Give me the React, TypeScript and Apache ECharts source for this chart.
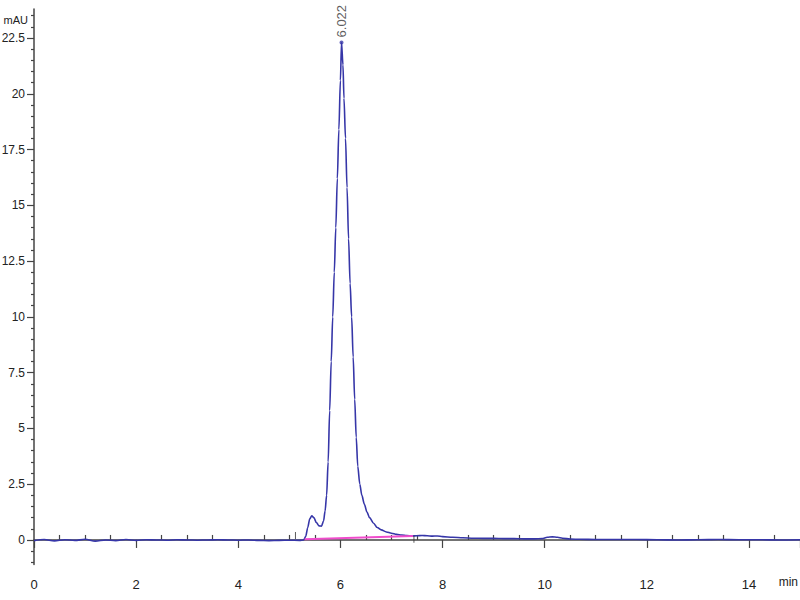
import React, { useEffect, useRef } from "react";
import * as echarts from "echarts";

const times = [
  0, 0.2, 0.4, 0.6, 0.8, 1.0, 1.2, 1.4, 1.6, 1.8, 2.0, 2.2, 2.4, 2.6, 2.8, 3.0,
  3.2, 3.4, 3.6, 3.8, 4.0, 4.2, 4.4, 4.6, 4.8, 5.0, 5.2, 5.28, 5.32, 5.36, 5.4,
  5.44, 5.48, 5.53, 5.58, 5.63, 5.67, 5.7, 5.73, 5.76, 5.79, 5.82, 5.85, 5.88,
  5.91, 5.94, 5.97, 6.0, 6.022, 6.05, 6.07, 6.1, 6.13, 6.16, 6.19, 6.22, 6.25,
  6.28, 6.31, 6.34, 6.38, 6.42, 6.47, 6.52, 6.57, 6.65, 6.72, 6.8, 6.9, 7.0,
  7.1, 7.2, 7.3, 7.4, 7.5, 7.6, 7.7, 7.8, 7.9, 8.0, 8.2, 8.4, 8.6, 8.8, 9.0,
  9.2, 9.4, 9.6, 9.8, 9.95, 10.05, 10.15, 10.25, 10.35, 10.5, 10.7, 11.0,
  11.4, 11.8, 12.2, 12.6, 13.0, 13.4, 13.8, 14.2, 14.6, 15.0,
];
const absorbance = [
  -0.03, 0.02, -0.04, 0.01, -0.02, 0.03, -0.05, 0.0, -0.03, 0.02, -0.02, 0.01,
  0.0, -0.01, 0.01, 0.0, -0.01, 0.0, 0.01, 0.0, -0.01, 0.0, -0.02, -0.03, -0.02,
  -0.01, -0.02, 0.0, 0.15, 0.55, 0.95, 1.08, 1.0, 0.78, 0.63, 0.62, 0.85, 1.3,
  2.0, 3.5, 5.8, 8.0, 10.0, 12.0, 14.0, 16.2, 18.4, 20.6, 22.3, 21.3, 19.8,
  18.0, 15.8, 13.5, 11.5, 10.0, 8.2, 6.3, 4.6, 3.3, 2.5, 2.0, 1.6, 1.25, 1.0,
  0.75, 0.56, 0.45, 0.36, 0.3, 0.25, 0.22, 0.2, 0.18, 0.19, 0.2, 0.19, 0.17,
  0.18, 0.15, 0.12, 0.1, 0.08, 0.07, 0.07, 0.06, 0.06, 0.05, 0.05, 0.06, 0.12,
  0.14, 0.12, 0.08, 0.04, 0.03, 0.02, 0.02, 0.02, 0.01, 0.0, 0.01, 0.02, 0.01,
  0.01, 0.0, 0.01,
];

const peakLabel = "6.022";
const baselineTimes = [5.3, 7.42];
const baselineValues = [0.03, 0.18];
const markerTimes = [5.12, 7.44];
const markerValues = [0.2, 0.03];

const xTickLabels = [0, 2, 4, 6, 8, 10, 12, 14];
const yTickLabels = [0, 2.5, 5, 7.5, 10, 12.5, 15, 17.5, 20, 22.5];
const xAxisTitle = "min";
const yAxisTitle = "mAU";

const FONT = "'Liberation Sans', Arial, sans-serif";

export default function App() {
  const ref = useRef<HTMLDivElement>(null);

  useEffect(() => {
    document.body.style.margin = "0";
    if (!ref.current) return;
    const chart = echarts.init(ref.current, undefined, { renderer: "svg" });

    const curve = times.map((t, i) => [t, absorbance[i]]);
    let peakIdx = 0;
    absorbance.forEach((v, i) => {
      if (v > absorbance[peakIdx]) peakIdx = i;
    });

    const yMinor: number[] = [];
    for (let k = -2; k <= 47; k++) {
      const v = k * 0.5;
      if (Math.abs(v / 2.5 - Math.round(v / 2.5)) > 1e-6 && v > -1.1 && v < 23.8) yMinor.push(v);
    }
    const xMinor: number[] = [];
    for (let k = 1; k < 30; k++) {
      const v = k * 0.5;
      if (k % 4 !== 0) xMinor.push(v);
    }

    const axisColor = "#444";
    const labelStyle = { color: "#222", fontSize: 12, fontFamily: FONT };

    chart.setOption({
      animation: false,
      backgroundColor: "#fff",
      grid: { left: 34, right: 0, top: 9, bottom: 35.5, containLabel: false, outerBoundsMode: "none" },
      graphic: [
        {
          type: "text",
          right: 2,
          top: 576,
          style: { text: xAxisTitle, fill: "#222", fontSize: 12, fontFamily: FONT },
        },
      ],
      xAxis: [
        {
          type: "value",
          position: "bottom",
          min: 0,
          max: 15,
          interval: 2,
          axisLine: { show: true, lineStyle: { color: axisColor, width: 1.5 } },
          axisTick: { show: true, length: 8, lineStyle: { color: axisColor, width: 1.2 } },
          axisLabel: {
            ...labelStyle,
            fontSize: 13,
            margin: 13,
            customValues: xTickLabels,
            formatter: (v: number) => String(v),
          },
          splitLine: { show: false },
        },
        {
          type: "value",
          position: "bottom",
          min: 0,
          max: 15,
          axisLine: { show: false },
          axisTick: { show: true, inside: true, length: 5, customValues: xMinor, lineStyle: { color: axisColor, width: 1.2 } },
          axisLabel: { show: false },
          splitLine: { show: false },
        },
      ],
      yAxis: [
        {
          type: "value",
          position: "left",
          min: -1.1,
          max: 23.8,
          name: yAxisTitle,
          nameLocation: "end",
          nameGap: -11,
          nameTextStyle: { ...labelStyle, fontSize: 11, align: "right", verticalAlign: "middle", padding: [0, 6, 0, 0] },
          axisLine: { show: true, lineStyle: { color: axisColor, width: 1.5 } },
          axisTick: { show: true, length: 7, customValues: yTickLabels, lineStyle: { color: axisColor, width: 1.2 } },
          axisLabel: {
            ...labelStyle,
            margin: 9,
            customValues: yTickLabels,
            formatter: (v: number) => String(v),
          },
          splitLine: { show: false },
        },
        {
          type: "value",
          position: "left",
          min: -1.1,
          max: 23.8,
          axisLine: { show: false },
          axisTick: { show: true, length: 3, customValues: yMinor, lineStyle: { color: axisColor, width: 1.2 } },
          axisLabel: { show: false },
          splitLine: { show: false },
        },
      ],
      series: [
        {
          type: "line",
          xAxisIndex: 0,
          yAxisIndex: 0,
          data: curve,
          showSymbol: false,
          smooth: 0.3,
          smoothMonotone: "x",
          lineStyle: { color: "#3636a8", width: 1.6 },
          z: 2,
        },
        {
          type: "line",
          xAxisIndex: 0,
          yAxisIndex: 0,
          data: baselineTimes.map((t, i) => [t, baselineValues[i]]),
          showSymbol: false,
          lineStyle: { color: "#f04ccc", width: 2 },
          z: 3,
        },
        {
          type: "scatter",
          xAxisIndex: 0,
          yAxisIndex: 0,
          data: markerTimes.map((t, i) => [t, markerValues[i]]),
          symbol: "rect",
          symbolSize: [1, 7],
          itemStyle: { color: "#333" },
          z: 4,
        },
        {
          type: "scatter",
          xAxisIndex: 0,
          yAxisIndex: 0,
          data: [[times[peakIdx], absorbance[peakIdx]]],
          symbol: "circle",
          symbolSize: 4,
          itemStyle: { color: "#3636a8" },
          label: {
            show: true,
            formatter: peakLabel,
            position: "top",
            distance: 3,
            rotate: 90,
            align: "left",
            verticalAlign: "middle",
            color: "#333",
            fontSize: 13,
            fontFamily: FONT,
          },
          z: 5,
        },
      ],
    });

    return () => chart.dispose();
  }, []);

  return <div ref={ref} style={{ width: 800, height: 600 }} />;
}
